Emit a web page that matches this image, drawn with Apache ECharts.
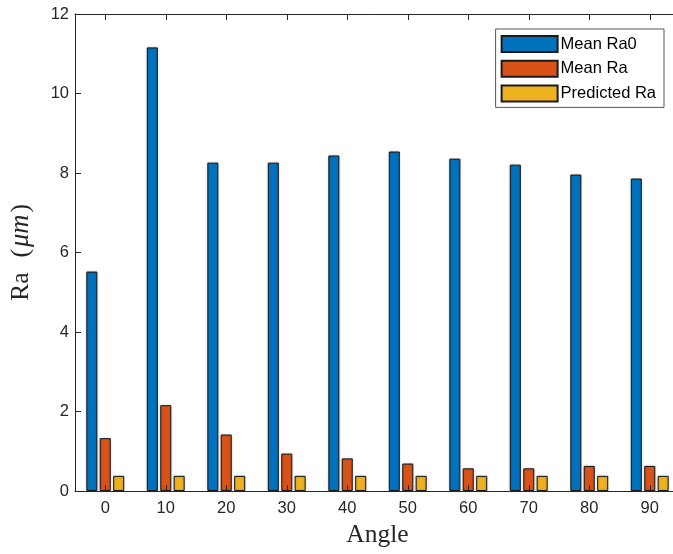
<!DOCTYPE html>
<html>
<head>
<meta charset="utf-8">
<script src="https://cdn.jsdelivr.net/npm/echarts@6/dist/echarts.min.js"></script>
<style>html,body{margin:0;padding:0;background:#fff;}#c{width:673px;height:554px;}</style>
</head>
<body>
<div id="c"></div>
<script>
const categories = ['0','10','20','30','40','50','60','70','80','90'];
const meanRa0 = [5.52, 11.16, 8.26, 8.26, 8.44, 8.54, 8.36, 8.21, 7.96, 7.86];
const meanRa = [1.33, 2.16, 1.42, 0.94, 0.82, 0.69, 0.57, 0.57, 0.63, 0.63];
const predictedRa = [0.38, 0.38, 0.38, 0.38, 0.38, 0.38, 0.38, 0.38, 0.38, 0.38];
const yTicks = [0, 2, 4, 6, 8, 10, 12];

const axisColor = '#262626';
const font = 'Liberation Sans, Arial, Helvetica, sans-serif';
const serif = 'Liberation Serif, DejaVu Serif, serif';

function barSeries(name, data, color) {
  return {
    name: name, type: 'bar', data: data,
    barWidth: 11, barGap: '22%',
    itemStyle: { color: color, borderColor: '#1a1a1a', borderWidth: 1,
      shadowColor: 'rgba(0,0,0,0.25)', shadowBlur: 2 },
    emphasis: { disabled: true }
  };
}

const chart = echarts.init(document.getElementById('c'), null, { renderer: 'canvas' });
chart.setOption({
  animation: false,
  backgroundColor: '#fff',
  grid: { left: 75, top: 14, width: 605, height: 477, containLabel: false, outerBoundsMode: 'none' },
  legend: {
    orient: 'vertical', right: 9, top: 29,
    padding: [6, 8, 5, 5], itemGap: 6.7, itemWidth: 56, itemHeight: 16,
    borderColor: '#555', borderWidth: 1, backgroundColor: '#fff',
    textStyle: { fontFamily: font, fontSize: 16.5, color: '#000', lineHeight: 16, padding: [0, 0, 0, -2] },
    icon: 'rect', selectedMode: false
  },
  xAxis: [{
    type: 'category', data: categories, boundaryGap: true, z: 10,
    name: 'Angle', nameLocation: 'middle', nameGap: 30.5,
    nameTextStyle: { fontFamily: serif, fontSize: 25.5, color: axisColor },
    axisLine: { show: true, lineStyle: { color: axisColor, width: 1 } },
    axisTick: { show: true, inside: true, alignWithLabel: true, length: 6, lineStyle: { color: axisColor } },
    axisLabel: { fontFamily: font, fontSize: 16.5, color: axisColor, margin: 9 },
    splitLine: { show: false }
  }, {
    type: 'category', data: categories, boundaryGap: true, position: 'top', z: 10,
    axisLine: { show: true, lineStyle: { color: axisColor, width: 1 } },
    axisTick: { show: true, inside: true, alignWithLabel: true, length: 6, lineStyle: { color: axisColor } },
    axisLabel: { show: false }, splitLine: { show: false }
  }],
  yAxis: {
    type: 'value', min: yTicks[0], max: yTicks[yTicks.length - 1], interval: 2, z: 10,
    name: '{n|Ra}{s|}{n|(}{i|μm}{n|)}', nameLocation: 'middle', nameGap: 40, nameRotate: 90,
    nameTextStyle: { rich: {
      n: { fontFamily: serif, fontSize: 25.5, color: axisColor },
      s: { width: 15, fontSize: 25.5 },
      i: { fontFamily: serif, fontSize: 26.5, fontStyle: 'italic', color: axisColor, padding: [0, 2, 0, 2] }
    } },
    axisLine: { show: true, lineStyle: { color: axisColor, width: 1 } },
    axisTick: { show: true, inside: true, length: 6, lineStyle: { color: axisColor } },
    axisLabel: { fontFamily: font, fontSize: 16.5, color: axisColor, margin: 6 },
    splitLine: { show: false }
  },
  series: [
    barSeries('Mean Ra0', meanRa0, '#0072BD'),
    barSeries('Mean Ra', meanRa, '#D95319'),
    barSeries('Predicted Ra', predictedRa, '#EDB120')
  ]
});
</script>
</body>
</html>
